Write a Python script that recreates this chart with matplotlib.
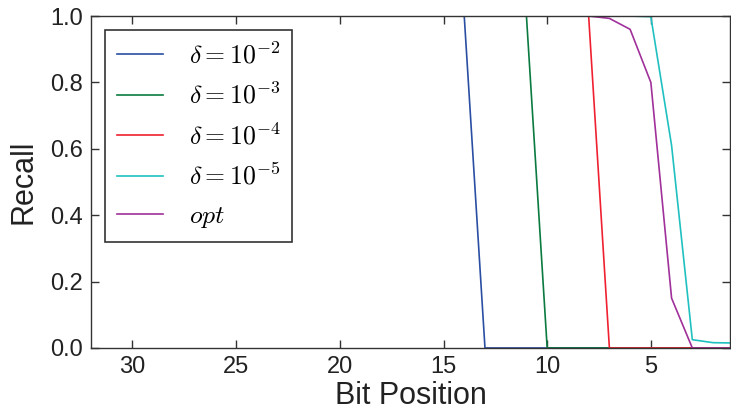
import matplotlib
matplotlib.use("Agg")
import matplotlib.pyplot as plt

plt.rcParams['font.family'] = ['Liberation Sans', 'DejaVu Sans']
plt.rcParams['mathtext.fontset'] = 'cm'

labels = [r'$\delta=10^{-2}$', r'$\delta=10^{-3}$', r'$\delta=10^{-4}$',
          r'$\delta=10^{-5}$', r'$opt$']
colors = ['#2a4ea2', '#0a7a40', '#f02030', '#20c0c0', '#a0309a']

bits = list(range(32, 0, -1))

d2 = [1.0 if b >= 14 else 0.0 for b in bits]
d3 = [1.0 if b >= 11 else 0.0 for b in bits]
d4 = [1.0 if b >= 8 else 0.0 for b in bits]
d5_tail = {5: 0.998, 4: 0.61, 3: 0.025, 2: 0.016, 1: 0.015}
d5 = [d5_tail.get(b, 1.0) for b in bits]
opt_tail = {7: 0.993, 6: 0.96, 5: 0.80, 4: 0.15, 3: 0.0, 2: 0.0, 1: 0.0}
opt = [opt_tail.get(b, 1.0) for b in bits]

series = [d2, d3, d4, d5, opt]

fig = plt.figure(figsize=(7.31, 4.17), dpi=100)
ax = fig.add_axes([0.1245, 0.1655, 0.8745, 0.796])
for ys, c, l in zip(series, colors, labels):
    ax.plot(bits, ys, color=c, lw=1.2, label=l)

ax.set_xlim(32, 1.17)
ax.set_ylim(0, 1)
ax.set_xticks([30, 25, 20, 15, 10, 5])
ax.set_yticks([0.0, 0.2, 0.4, 0.6, 0.8, 1.0])
ax.set_yticklabels(['0.0', '0.2', '0.4', '0.6', '0.8', '1.0'])
ax.tick_params(direction='in', length=6, width=1, colors='#333333',
               labelsize=17, top=True, right=True, pad=6, labelcolor='#222222')
for s in ax.spines.values():
    s.set_color('#333333')
    s.set_linewidth(1.0)
ax.set_xlabel('Bit Position', fontsize=22, color='#222222', labelpad=2)
ax.set_ylabel('Recall', fontsize=22, color='#222222', labelpad=8)

leg = ax.legend(loc='upper left', fontsize=18.5, frameon=True, fancybox=False,
                edgecolor='black', handlelength=1.8, handletextpad=1.0,
                borderpad=0.45, labelspacing=0.55, borderaxespad=0.55)
leg.get_frame().set_linewidth(1.2)

fig.savefig('out.png', dpi=100)
